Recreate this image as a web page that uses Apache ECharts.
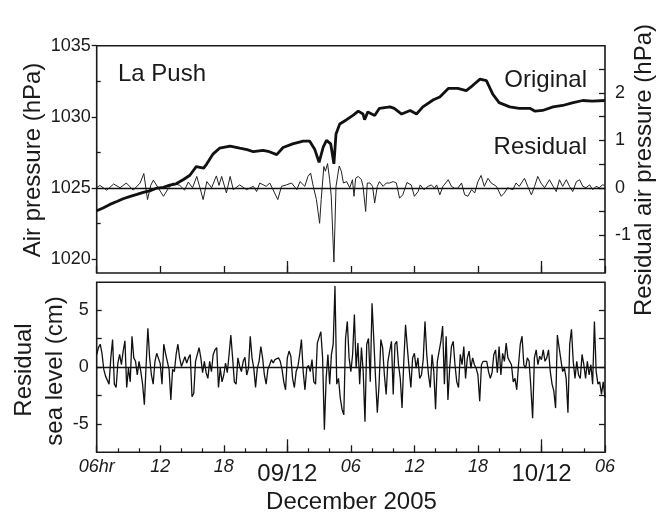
<!DOCTYPE html>
<html><head><meta charset="utf-8">
<script src="https://cdn.jsdelivr.net/npm/echarts@6/dist/echarts.min.js"></script>
<style>html,body{margin:0;padding:0;background:#fff}#c{width:670px;height:513px}</style>
</head><body><div id="c"></div>
<script>
// ---- Data (hours after 06:00 8 Dec 2005) ----
const origT = [0,0.6,1.25,1.9,2.5,3.1,3.8,4.4,5.0,5.7,6.3,6.9,7.5,8.2,8.8,9.4,10.1,10.4,11.0,11.6,12.6,13.5,14.2,14.8,15.7,16.3,17.0,17.6,18.5,19.5,20.1,20.6,21.0,21.4,21.7,22.1,22.4,22.6,22.95,23.6,24.2,24.7,25.15,25.3,25.6,26.25,26.7,27.7,28.1,28.8,29.6,30.2,30.8,31.8,32.4,33.2,34.1,34.9,35.5,36.2,36.8,37.4,38.0,39.0,39.9,40.9,41.4,42.1,43.1,44.0,45.0,45.9,46.8,48];
const origP = [1023.4,1023.6,1023.85,1024.05,1024.25,1024.4,1024.55,1024.7,1024.8,1025.0,1025.05,1025.2,1025.3,1025.6,1025.9,1026.5,1026.4,1026.7,1027.4,1027.8,1027.95,1027.8,1027.7,1027.55,1027.65,1027.55,1027.35,1027.85,1028.1,1028.3,1028.3,1027.7,1026.8,1027.9,1028.35,1028.1,1026.7,1028.8,1029.5,1029.8,1030.1,1030.4,1030.2,1029.8,1030.35,1030.1,1030.6,1030.7,1030.6,1030.2,1030.45,1030.2,1030.7,1031.2,1031.4,1032.0,1032.0,1031.85,1032.2,1032.65,1032.55,1031.6,1031.0,1030.7,1030.6,1030.6,1030.4,1030.45,1030.7,1030.8,1031.0,1031.15,1031.1,1031.15];

const residT = [0,0.3,0.95,1.6,2.2,2.8,3.45,4.1,4.45,4.8,5.1,5.35,5.8,6.3,6.75,7.2,7.85,8.3,8.65,9.05,9.45,9.75,10.05,10.4,10.85,11.3,11.55,11.8,12.25,12.6,12.9,13.5,14.15,14.8,15.1,15.4,16.0,16.35,16.8,17.1,17.45,17.9,18.4,18.9,19.2,19.65,19.95,20.2,20.45,20.75,21.05,21.2,21.45,21.6,21.8,22.0,22.15,22.4,22.6,22.9,23.1,23.3,23.6,23.9,24.15,24.3,24.45,24.7,25.0,25.15,25.4,25.55,25.8,26.05,26.25,26.5,26.7,27.05,27.35,27.65,28.0,28.3,28.6,28.9,29.3,29.7,30.0,30.35,30.55,30.9,31.3,31.6,31.9,32.1,32.4,32.7,33.2,33.5,33.8,34.1,34.45,34.75,35.05,35.4,35.7,36.0,36.3,36.6,36.95,37.25,37.75,38.2,38.5,38.8,39.3,39.6,39.9,40.4,40.7,41.05,41.35,41.65,41.95,42.3,42.75,43.1,43.4,43.7,44.0,44.35,44.65,44.95,45.3,45.6,45.9,46.2,46.55,46.85,47.15,47.45,47.75,48];
const residP = [0.0,0.05,-0.05,0.08,0.0,0.1,-0.05,0.1,0.3,-0.25,0.05,0.16,0.0,-0.18,-0.02,0.1,0.05,-0.05,0.12,0.0,0.24,0.0,-0.25,0.13,0.0,0.25,0.05,0.24,-0.11,0.24,-0.04,0.06,-0.04,0.03,-0.08,0.1,0.03,0.1,-0.11,-0.25,0.03,0.06,0.1,-0.04,0.13,0.03,0.24,0.31,0.03,-0.25,-0.75,-0.25,0.45,0.35,0.51,0.17,-0.18,-1.57,0.03,0.46,0.35,0.1,0.13,0.0,0.17,-0.18,0.2,0.24,0.17,0.03,-0.5,0.1,0.1,0.03,-0.32,0.03,0.13,0.03,0.1,0.1,0.13,0.1,-0.22,-0.15,0.11,0.06,-0.18,-0.08,0.06,-0.04,0.03,0.06,-0.01,0.06,-0.15,0.03,0.17,0.03,-0.01,-0.01,0.1,-0.15,-0.18,-0.04,-0.11,0.13,0.26,0.03,0.2,0.1,0.03,-0.18,-0.11,0.0,-0.04,0.1,0.03,0.2,0.03,-0.15,0.03,0.24,0.1,0.0,0.17,0.03,-0.08,0.17,0.03,0.17,0.03,-0.08,0.13,0.17,0.03,0.0,0.06,-0.04,0.03,0.0,0.06,0.05];

// residual sea level (cm), one value every 10 minutes
const seaStepHours = 1/6;
const seaLevel = [
 1.1,1.7,2.0,1.2,-0.2,-0.8,-0.7,-1.5,0.8,2.4,
 -1.5,-1.8,0.35,1.1,0.2,1.4,2.3,-1.8,-0.1,-1.3,
 2.7,0.8,0.5,-0.7,0.5,-0.4,-1.5,-3.3,0.2,3.4,
 0.8,-0.7,-1.5,0.5,1.2,1.3,0.3,-1.5,2.0,1.2,
 0.5,-0.2,-2.9,-0.2,-0.4,1.1,2.0,0.8,0.05,0.2,
 0.9,0.35,0.8,1.1,-2.6,-2.3,0.5,0.5,1.7,0.8,
 -0.5,0.5,-0.5,-1.0,0.5,-0.4,1.1,1.5,1.7,-1.8,
 -0.1,-1.3,-0.7,
 0.35,-0.5,1.1,2.8,0.8,-1.3,-1.5,
 0.8,0.05,-0.4,0.5,0.85,-0.7,-0.1,2.7,0.8,-0.1,
 -1.8,-0.1,0.5,1.8,0.8,-0.7,-1.5,-0.2,0.2,0.65,
 0.35,0.65,0.8,0.8,0.5,-0.2,-1.3,-2.0,0.8,1.4,
 0.95,-1.0,-1.8,-0.4,0.05,1.1,2.4,-0.4,-2.0,-0.1,
 0.15,-0.4,0.65,-1.3,-1.5,2.1,2.25,3.1,0.8,-5.5,
 -1.0,1.1,-1.5,1.1,2.0,7.1,-1.5,-1.0,-2.7,-3.7,
 -4.2,2.5,4.0,0.8,-0.4,1.1,
 4.6,-0.1,2.1,-1.5,
 1.7,-0.4,-4.8,2.0,2.5,-1.3,5.6,2.4,-1.0,-4.0,
 -1.5,2.4,1.7,-0.7,-2.4,0.5,1.4,2.25,-2.4,2.0,
 2.25,0.2,-1.0,-3.6,0.5,3.7,1.7,-0.1,-1.8,0.8,
 1.2,-0.1,0.8,-1.0,-0.7,0.65,4.0,1.1,-0.7,-1.8,
 1.1,-0.4,-3.7,0.5,0.5,2.25,3.6,-1.5,2.7,-2.9,
 -0.1,1.8,2.25,0.2,-1.3,-1.8,1.1,0.2,1.8,-1.0,
 0.8,1.4,-0.1,0.8,0.2,-0.1,-0.7,-3.0,0.2,0.5,
 0.35,0.5,-0.4,-1.0,-0.5,1.1,1.5,-0.5,1.8,-0.7,
 1.2,0.5,2.1,0.8,0.95,0.2,-1.3,-1.0,-2.0,0.2,
 2.0,2.7,0.2,-0.1,0.8,0.5,-1.8,-4.5,0.8,1.5,
 0.2,0.95,0.65,1.5,0.5,0.8,1.5,-0.4,-1.5,-2.1,
 -3.6,2.8,1.7,1.7,-0.4,-0.1,-1.0,-4.0,2.0,3.3,
 0.5,-1.0,0.5,-0.7,-1.0,1.1,0.2,-1.0,0.5,-0.7,
 0.2,-1.5,4.0,-0.4,-1.5,-1.3,-2.4,-1.3,-2.7
];

// ---- tick labels ----
const hourTickValues = [0,6,12,24,30,36,48];
const hourTickLabels = ['06hr','12','18','06','12','18','06'];
const dayTickValues = [18,42];
const dayTickLabels = ['09/12','10/12'];
const pressureTicks = [1020,1025,1030,1035];
const pressureMinorTicks = [1022.5,1027.5,1032.5];
const residPressLabels = [-1,0,1,2];
const residPressTicks = [-1.5,-1,-0.5,0,0.5,1,1.5,2,2.5];
const seaLabels = [-5,0,5];
const seaTicks = [-5,-2.5,0,2.5,5];

// ---- build ----
const F = '"Liberation Sans", Arial, Helvetica, sans-serif';
const INK = '#1a1a1a';
const zip = (a,b) => a.map((v,i)=>[v,b[i]]);
const seaData = seaLevel.map((v,i)=>[i*seaStepHours, v]);
const plain = (v) => String(v);

const chart = echarts.init(document.getElementById('c'), null, {renderer:'canvas'});
const L = 96.7, R = 65;
const noLine = {show:false, onZero:false};
const baseX = (grid) => ({gridIndex:grid, type:'value', min:0, max:48, interval:6, position:'bottom', offset:0,
  axisLine:noLine, splitLine:{show:false}});
const baseY = (grid, min, max, pos) => ({gridIndex:grid, type:'value', min:min, max:max, position:pos, offset:0,
  axisLine:noLine, splitLine:{show:false}});
const tk = (vals, len, inside) => ({show:true, inside:inside, length:len, customValues:vals, lineStyle:{color:INK, width:1.3}});

const option = {
  animation:false,
  backgroundColor:'#fff',
  grid:[
    {left:L, right:R, top:45.7, height:227.3, show:true, borderColor:INK, borderWidth:1.6, backgroundColor:'rgba(0,0,0,0)'},
    {left:L, right:R, top:282.3, height:170, show:true, borderColor:INK, borderWidth:1.6, backgroundColor:'rgba(0,0,0,0)'}
  ],
  xAxis:[
    Object.assign(baseX(0), {axisTick:{show:true, inside:true, length:7, lineStyle:{color:INK,width:1.3}}, axisLabel:{show:false}}),
    Object.assign(baseX(0), {axisTick:tk(dayTickValues,12,true), axisLabel:{show:false}}),
    Object.assign(baseX(1), {axisTick:{show:true, inside:true, length:7, lineStyle:{color:INK,width:1.3}},
      minorTick:{show:true, splitNumber:3, length:4, lineStyle:{color:INK,width:1.2}},
      axisLabel:{show:true, customValues:hourTickValues, margin:6, color:INK, fontFamily:F, fontSize:18, fontStyle:'italic',
        formatter:(v)=>{const k=hourTickValues.indexOf(v); return k>=0?hourTickLabels[k]:'';}}}),
    Object.assign(baseX(1), {axisTick:tk(dayTickValues,13,true),
      axisLabel:{show:true, customValues:dayTickValues, margin:10, color:INK, fontFamily:F, fontSize:24,
        formatter:(v)=>{const k=dayTickValues.indexOf(v); return k>=0?dayTickLabels[k]:'';}}})
  ],
  yAxis:[
    Object.assign(baseY(0,1019.03,1035,'left'), {axisTick:tk(pressureTicks,5,false),
      axisLabel:{show:true, customValues:pressureTicks, margin:6, color:INK, fontFamily:F, fontSize:18, formatter:plain}}),
    Object.assign(baseY(0,1019.03,1035,'left'), {axisTick:tk(pressureMinorTicks,4,true), axisLabel:{show:false}}),
    Object.assign(baseY(0,-1.8,3.0,'right'), {axisTick:tk(residPressTicks,6,true),
      axisLabel:{show:true, customValues:residPressLabels, margin:10, color:INK, fontFamily:F, fontSize:18, formatter:plain}}),
    Object.assign(baseY(1,-7.48,7.43,'left'), {axisTick:tk(seaTicks,5,true),
      axisLabel:{show:true, customValues:seaLabels, margin:8, color:INK, fontFamily:F, fontSize:18, formatter:plain}}),
    Object.assign(baseY(1,-7.48,7.43,'right'), {axisTick:tk(seaTicks,6,true), axisLabel:{show:false}})
  ],
  series:[
    {type:'line', xAxisIndex:0, yAxisIndex:0, data:zip(origT,origP), showSymbol:false, symbol:'none',
      lineStyle:{color:'#111', width:2.8}, z:3},
    {type:'line', xAxisIndex:0, yAxisIndex:2, data:zip(residT,residP), showSymbol:false, symbol:'none',
      lineStyle:{color:'#222', width:1}, z:2,
      markLine:{silent:true, symbol:'none', label:{show:false}, lineStyle:{color:'#111', width:1.3, type:'solid'}, data:[{yAxis:0}]}},
    {type:'line', xAxisIndex:2, yAxisIndex:3, data:seaData, showSymbol:false, symbol:'none',
      lineStyle:{color:'#111', width:1.3}, z:2,
      markLine:{silent:true, symbol:'none', label:{show:false}, lineStyle:{color:'#111', width:1.3, type:'solid'}, data:[{yAxis:0}]}}
  ],
  graphic:[
    {type:'text', x:118, y:74, style:{text:'La Push', font:'24px '+F, fill:INK, textAlign:'left', textVerticalAlign:'middle'}},
    {type:'text', x:587, y:80, style:{text:'Original', font:'24px '+F, fill:INK, textAlign:'right', textVerticalAlign:'middle'}},
    {type:'text', x:587, y:147, style:{text:'Residual', font:'24px '+F, fill:INK, textAlign:'right', textVerticalAlign:'middle'}},
    {type:'text', x:33.5, y:160, rotation:Math.PI/2, style:{text:'Air pressure (hPa)', font:'24px '+F, fill:INK, textAlign:'center', textVerticalAlign:'middle'}},
    {type:'text', x:644, y:170, rotation:Math.PI/2, style:{text:'Residual air pressure (hPa)', font:'24px '+F, fill:INK, textAlign:'center', textVerticalAlign:'middle'}},
    {type:'text', x:24.5, y:370, rotation:Math.PI/2, style:{text:'Residual', font:'24px '+F, fill:INK, textAlign:'center', textVerticalAlign:'middle'}},
    {type:'text', x:55.5, y:371, rotation:Math.PI/2, style:{text:'sea level (cm)', font:'24px '+F, fill:INK, textAlign:'center', textVerticalAlign:'middle'}},
    {type:'text', x:351.5, y:502, style:{text:'December 2005', font:'24px '+F, fill:INK, textAlign:'center', textVerticalAlign:'middle'}}
  ]
};
chart.setOption(option);
</script>
</body></html>
